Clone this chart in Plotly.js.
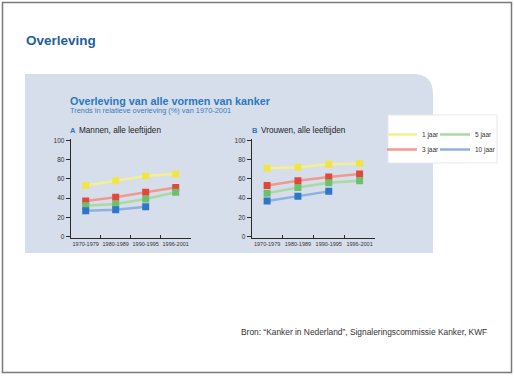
<!DOCTYPE html>
<html><head><meta charset="utf-8">
<script src="https://cdn.plot.ly/plotly-3.0.1.min.js"></script>
<style>html,body{margin:0;padding:0;background:#fff;}#chart{width:514px;height:377px;}</style>
</head><body><div id="chart"></div>
<script>
// ---- data ----
const periods = ["1970-1979", "1980-1989", "1990-1995", "1996-2001"];
const seriesNames = ["1 jaar", "3 jaar", "5 jaar", "10 jaar"];
const men1 = [53, 58, 63, 65];
const men3 = [37, 41, 46, 51];
const men5 = [32, 34, 39, 46];
const men10 = [27, 28, 31, null];
const women1 = [71, 72, 75, 76];
const women3 = [53, 58, 62, 65];
const women5 = [45, 51, 56, 58];
const women10 = [37, 42, 47, null];
const yTicks = [0, 20, 40, 60, 80, 100];

// ---- styling ----
const W = 514, H = 377;
const X = p => p / W, Y = p => 1 - p / H;
const markerColors = ["#efe545", "#e0483a", "#6dbf6c", "#2f76c6"];
const lineColors = ["#f4ef90", "#f09a8e", "#a9d9a4", "#8fb0e0"];
const legendFor = ["legend", "legend2", "legend3", "legend4"];
const FONT = "Liberation Sans, Arial, sans-serif";

const menSeries = [men1, men3, men5, men10];
const womenSeries = [women1, women3, women5, women10];

const traces = [];
[[menSeries, "x", "y", false], [womenSeries, "x2", "y2", true]].forEach(([set, xa, ya, leg]) => {
  set.forEach((vals, i) => {
    traces.push({
      type: "scatter", mode: "lines", x: periods, y: vals, xaxis: xa, yaxis: ya,
      name: seriesNames[i], legend: legendFor[i], showlegend: leg,
      line: {color: lineColors[i], width: 2.5}, hoverinfo: "skip"
    });
    traces.push({
      type: "scatter", mode: "markers", x: periods, y: vals, xaxis: xa, yaxis: ya,
      name: seriesNames[i], showlegend: false,
      marker: {color: markerColors[i], size: 7, symbol: "square"}
    });
  });
});

const xaxisBase = {
  type: "category", range: [-0.5, 3.5], showline: true, linecolor: "#2b2b2b", linewidth: 1,
  ticks: "inside", tickson: "boundaries", ticklen: 3, tickcolor: "#2b2b2b",
  showgrid: false, zeroline: false, tickfont: {family: FONT, size: 5.5, color: "#333"},
  tickangle: 0, fixedrange: true
};
const yaxisBase = {
  range: [-1.5, 101], tickvals: yTicks, showline: true, linecolor: "#2b2b2b", linewidth: 1,
  ticks: "outside", ticklen: 4, tickcolor: "#2b2b2b", showgrid: false, zeroline: false,
  tickfont: {family: FONT, size: 6.5, color: "#333"}, domain: [0.3684, 0.6305], fixedrange: true
};

const r = 20;
const panelPath = `M ${X(25)} ${Y(74)} L ${X(433 - r)} ${Y(74)} Q ${X(433)} ${Y(74)} ${X(433)} ${Y(74 + r)} L ${X(433)} ${Y(253)} L ${X(25)} ${Y(253)} Z`;

const legendBase = {orientation: "h", xanchor: "left", yanchor: "top", bgcolor: "rgba(0,0,0,0)",
  font: {family: FONT, size: 6.5, color: "#333"}, tracegroupgap: 0};

const layout = {
  width: W, height: H, margin: {l: 0, r: 0, t: 0, b: 0, autoexpand: false},
  paper_bgcolor: "#ffffff", plot_bgcolor: "rgba(0,0,0,0)",
  font: {family: FONT},
  xaxis: Object.assign({}, xaxisBase, {domain: [X(70.7), X(190.7)], anchor: "y"}),
  yaxis: Object.assign({}, yaxisBase, {anchor: "x"}),
  xaxis2: Object.assign({}, xaxisBase, {domain: [X(251.7), X(375)], anchor: "y2"}),
  yaxis2: Object.assign({}, yaxisBase, {anchor: "x2"}),
  legend: Object.assign({}, legendBase, {x: X(382), y: Y(120)}),
  legend3: Object.assign({}, legendBase, {x: X(435), y: Y(120)}),
  legend2: Object.assign({}, legendBase, {x: X(382), y: Y(135)}),
  legend4: Object.assign({}, legendBase, {x: X(435), y: Y(135)}),
  shapes: [
    {type: "rect", xref: "paper", yref: "paper", x0: X(2.5), x1: X(511.5), y0: Y(372.5), y1: Y(2.5),
      line: {color: "#7a7a7a", width: 1.5}, fillcolor: "rgba(0,0,0,0)", layer: "below"},
    {type: "path", xref: "paper", yref: "paper", path: panelPath, fillcolor: "#d6deeb",
      line: {width: 0}, layer: "below"},
    {type: "rect", xref: "paper", yref: "paper", x0: X(388), x1: X(497), y0: Y(163), y1: Y(115),
      fillcolor: "#ffffff", line: {color: "#e4e8ee", width: 1}, layer: "below"}
  ],
  annotations: [
    {text: "<b>Overleving</b>", xref: "paper", yref: "paper", x: X(24), y: Y(40), xanchor: "left", yanchor: "middle",
      showarrow: false, font: {family: FONT, size: 13.5, color: "#1f5e9c"}},
    {text: "<b>Overleving van alle vormen van kanker</b>", xref: "paper", yref: "paper", x: X(68), y: Y(101), xanchor: "left", yanchor: "middle",
      showarrow: false, font: {family: FONT, size: 10.8, color: "#2a79bd"}},
    {text: "Trends in relatieve overleving (%) van 1970-2001", xref: "paper", yref: "paper", x: X(68), y: Y(110.5), xanchor: "left", yanchor: "middle",
      showarrow: false, font: {family: FONT, size: 7.4, color: "#3a7cc0"}},
    {text: "<b>A</b>", xref: "paper", yref: "paper", x: X(68), y: Y(131), xanchor: "left", yanchor: "middle",
      showarrow: false, font: {family: FONT, size: 7.5, color: "#2a79bd"}},
    {text: "Mannen, alle leeftijden", xref: "paper", yref: "paper", x: X(77), y: Y(131), xanchor: "left", yanchor: "middle",
      showarrow: false, font: {family: FONT, size: 8.2, color: "#222"}},
    {text: "<b>B</b>", xref: "paper", yref: "paper", x: X(250), y: Y(131), xanchor: "left", yanchor: "middle",
      showarrow: false, font: {family: FONT, size: 7.5, color: "#2a79bd"}},
    {text: "Vrouwen, alle leeftijden", xref: "paper", yref: "paper", x: X(259), y: Y(131), xanchor: "left", yanchor: "middle",
      showarrow: false, font: {family: FONT, size: 8.2, color: "#222"}},
    {text: "Bron: \u201cKanker in Nederland\u201d, Signaleringscommissie Kanker, KWF", xref: "paper", yref: "paper",
      x: X(239), y: Y(332), xanchor: "left", yanchor: "middle",
      showarrow: false, font: {family: FONT, size: 8.4, color: "#333"}}
  ]
};

Plotly.newPlot("chart", traces, layout, {displayModeBar: false, staticPlot: true});
</script>
</body></html>
